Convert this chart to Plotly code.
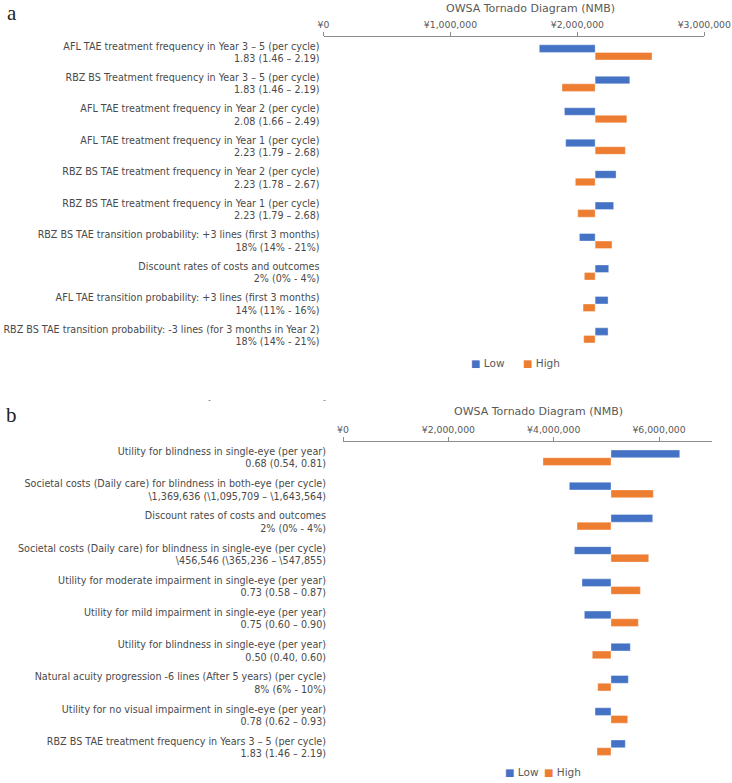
import plotly.graph_objects as go

W, H = 732, 783

# ---------------- Panel a data ----------------
labels_a = [
    "AFL TAE treatment frequency in Year 3 \u2013 5 (per cycle)<br>1.83 (1.46 \u2013 2.19)",
    "RBZ BS Treatment frequency in Year 3 \u2013 5 (per cycle)<br>1.83 (1.46 \u2013 2.19)",
    "AFL TAE treatment frequency in Year 2 (per cycle)<br>2.08 (1.66 \u2013 2.49)",
    "AFL TAE treatment frequency in Year 1 (per cycle)<br>2.23 (1.79 \u2013 2.68)",
    "RBZ BS TAE treatment frequency in Year 2 (per cycle)<br>2.23 (1.78 \u2013 2.67)",
    "RBZ BS TAE treatment frequency in Year 1 (per cycle)<br>2.23 (1.79 \u2013 2.68)",
    "RBZ BS TAE transition probability: +3 lines (first 3 months)<br>18% (14% - 21%)",
    "Discount rates of costs and outcomes<br>2% (0% - 4%)",
    "AFL TAE transition probability: +3 lines (first 3 months)<br>14% (11% - 16%)",
    "RBZ BS TAE transition probability: -3 lines (for 3 months in Year 2)<br>18% (14% - 21%)",
]
base_a = 2140000
low_a = [1700000, 2413000, 1898000, 1908000, 2305000, 2286000, 2016000, 2247000, 2242000, 2242000]
high_a = [2588000, 1879000, 2390000, 2378000, 1984000, 2003000, 2273000, 2055000, 2045000, 2050000]
ticks_a = [0, 1000000, 2000000, 3000000]

# ---------------- Panel b data ----------------
labels_b = [
    "Utility for blindness in single-eye (per year)<br>0.68 (0.54, 0.81)",
    "Societal costs (Daily care) for blindness in both-eye (per cycle)<br>\\1,369,636 (\\1,095,709 \u2013 \\1,643,564)",
    "Discount rates of costs and outcomes<br>2% (0% - 4%)",
    "Societal costs (Daily care) for blindness in single-eye (per cycle)<br>\\456,546 (\\365,236 \u2013 \\547,855)",
    "Utility for moderate impairment in single-eye (per year)<br>0.73 (0.58 \u2013 0.87)",
    "Utility for mild impairment in single-eye (per year)<br>0.75 (0.60 \u2013 0.90)",
    "Utility for blindness in single-eye (per year)<br>0.50 (0.40, 0.60)",
    "Natural acuity progression -6 lines (After 5 years) (per cycle)<br>8% (6% - 10%)",
    "Utility for no visual impairment in single-eye (per year)<br>0.78 (0.62 \u2013 0.93)",
    "RBZ BS TAE treatment frequency in Years 3 \u2013 5 (per cycle)<br>1.83 (1.46 \u2013 2.19)",
]
base_b = 5088000
low_b = [6393000, 4297000, 5880000, 4392000, 4538000, 4582000, 5455000, 5417000, 4785000, 5360000]
high_b = [3797000, 5892000, 4443000, 5804000, 5645000, 5607000, 4733000, 4836000, 5405000, 4823000]
ticks_b = [0, 2000000, 4000000, 6000000]

series_names = ["Low", "High"]
BLUE = "#4472C4"
ORANGE = "#ED7D31"
TXT = "#595959"
FONT = "DejaVu Sans"


def px_x(p):
    return p / W


def px_y(p):
    return 1 - p / H


def yen(v):
    return "\u00a5{:,}".format(v)


fig = go.Figure()

for (labels, base, low, high, xa, ya) in [
    (labels_a, base_a, low_a, high_a, "x", "y"),
    (labels_b, base_b, low_b, high_b, "x2", "y2"),
]:
    for name, vals, col in [(series_names[0], low, BLUE), (series_names[1], high, ORANGE)]:
        fig.add_trace(go.Bar(
            y=labels, x=[v - base for v in vals], base=base, orientation="h",
            name=name, marker=dict(color=col, line=dict(color="rgba(255,255,255,0.6)", width=0.6)),
            xaxis=xa, yaxis=ya, showlegend=False,
        ))

common_x = dict(
    side="top", showline=True, linecolor="#8c8c8c", linewidth=1, automargin=False,
    ticks="outside", ticklen=4, tickcolor="#8c8c8c", showgrid=False, zeroline=False,
    tickfont=dict(size=9.3, color=TXT, family=FONT), fixedrange=True,
)
common_y = dict(
    type="category", autorange="reversed", showline=False, showgrid=False, zeroline=False,
    automargin=False, ticks="", tickfont=dict(size=9.6, color="#4a4a4a", family=FONT),
    fixedrange=True,
)

fig.update_layout(
    width=W, height=H, margin=dict(l=0, r=0, t=0, b=0, autoexpand=False),
    paper_bgcolor="white", plot_bgcolor="white",
    font=dict(family=FONT, color=TXT),
    barmode="group", bargap=0.52, bargroupgap=0, showlegend=False,
    xaxis=dict(common_x, domain=[px_x(323.5), px_x(704.3)], range=[0, 3000000],
               tickvals=ticks_a, ticktext=[yen(v) for v in ticks_a], anchor="y"),
    yaxis=dict(common_y, domain=[px_y(351.1), px_y(36.7)], anchor="x", ticklabelstandoff=3),
    xaxis2=dict(common_x, domain=[px_x(343.0), px_x(711.7)], range=[0, 7000000],
                tickvals=ticks_b, ticktext=[yen(v) for v in ticks_b], anchor="y2"),
    yaxis2=dict(common_y, domain=[px_y(763.8), px_y(441.6)], anchor="x2", ticklabelstandoff=16),
)


def legend_entry(name, col, x, y):
    return dict(text="<span style='color:%s;font-size:10px'>\u25a0</span> %s" % (col, name),
                x=px_x(x), y=px_y(y), xanchor="left", yanchor="middle",
                font=dict(size=10.5, color=TXT, family=FONT))


annotations = [
    dict(text="a", x=px_x(5), y=px_y(13), xanchor="left", yanchor="middle",
         font=dict(family="Liberation Serif", size=21, color="#222")),
    dict(text="b", x=px_x(4), y=px_y(415), xanchor="left", yanchor="middle",
         font=dict(family="Liberation Serif", size=21, color="#222")),
    dict(text="OWSA Tornado Diagram (NMB)", x=px_x(530), y=px_y(8), xanchor="center", yanchor="middle",
         font=dict(size=11, color=TXT, family=FONT)),
    dict(text="OWSA Tornado Diagram (NMB)", x=px_x(538.5), y=px_y(411.7), xanchor="center", yanchor="middle",
         font=dict(size=11, color=TXT, family=FONT)),
    dict(text="-", x=px_x(209), y=px_y(400.5), xanchor="center", yanchor="middle",
         font=dict(size=8, color="#777", family=FONT)),
    dict(text="-", x=px_x(324), y=px_y(400.5), xanchor="center", yanchor="middle",
         font=dict(size=8, color="#777", family=FONT)),
    legend_entry(series_names[0], BLUE, 469, 363),
    legend_entry(series_names[1], ORANGE, 521, 363),
    legend_entry(series_names[0], BLUE, 503, 771.7),
    legend_entry(series_names[1], ORANGE, 542, 771.7),
]
for a in annotations:
    a.update(xref="paper", yref="paper", showarrow=False)
fig.update_layout(annotations=annotations)

fig.write_html(
    "out.html",
    config={"displayModeBar": False},
    post_script="document.documentElement.style.margin='0';document.body.style.margin='0';"
                "document.body.style.padding='0';document.body.style.overflow='hidden';",
)
